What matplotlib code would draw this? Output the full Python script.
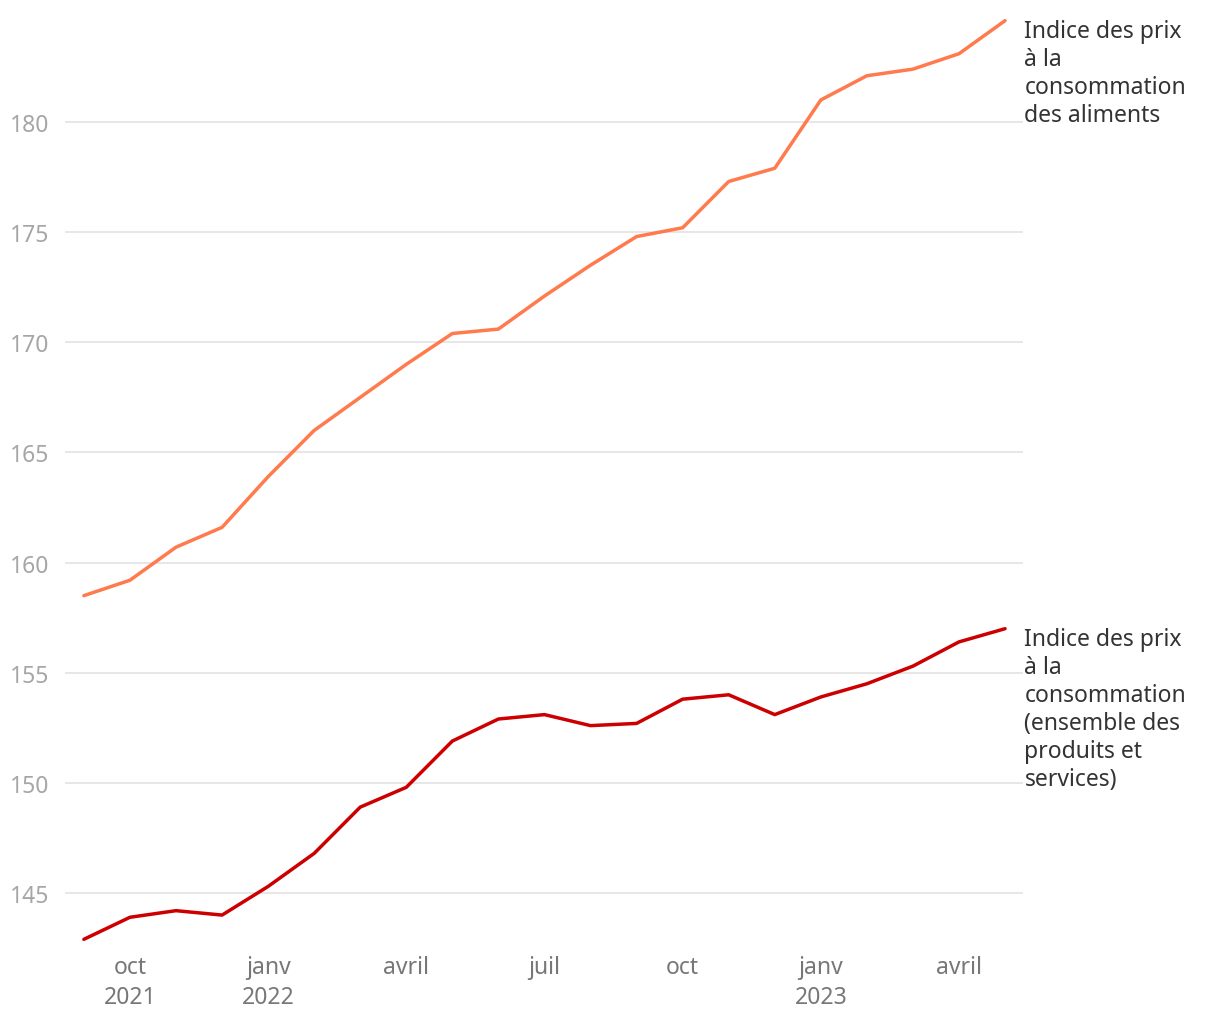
import matplotlib
matplotlib.use("Agg")
import matplotlib.pyplot as plt

plt.rcParams['font.family'] = ['Noto Sans', 'DejaVu Sans']

months = ["sept 2021", "oct 2021", "nov 2021", "déc 2021", "janv 2022", "févr 2022", "mars 2022",
          "avril 2022", "mai 2022", "juin 2022", "juil 2022", "août 2022", "sept 2022", "oct 2022",
          "nov 2022", "déc 2022", "janv 2023", "févr 2023", "mars 2023", "avril 2023", "mai 2023"]

food = [158.5, 159.2, 160.7, 161.6, 163.9, 166.0, 167.5, 169.0, 170.4, 170.6, 172.1,
        173.5, 174.8, 175.2, 177.3, 177.9, 181.0, 182.1, 182.4, 183.1, 184.6]
cpi = [142.9, 143.9, 144.2, 144.0, 145.3, 146.8, 148.9, 149.8, 151.9, 152.9, 153.1,
       152.6, 152.7, 153.8, 154.0, 153.1, 153.9, 154.5, 155.3, 156.4, 157.0]

food_label = "Indice des prix\nà la\nconsommation\ndes aliments"
cpi_label = "Indice des prix\nà la\nconsommation\n(ensemble des\nproduits et\nservices)"

xtick_pos = [1, 4, 7, 10, 13, 16, 19]
xtick_labels = ["oct\n2021", "janv\n2022", "avril", "juil", "oct", "janv\n2023", "avril"]
ytick_vals = [145, 150, 155, 160, 165, 170, 175, 180]

food_color = "#FF7A4D"
cpi_color = "#CC0000"

FS = 16.5

fig = plt.figure(figsize=(12.2, 10.2), dpi=100)
W, H = 1220, 1020
left, right, top, bottom = 65, 1023, 10, 950
ax = fig.add_axes([left / W, 1 - bottom / H, (right - left) / W, (bottom - top) / H])

x = list(range(len(months)))
ax.plot(x, food, color=food_color, lw=2.5, solid_capstyle='round', solid_joinstyle='round')
ax.plot(x, cpi, color=cpi_color, lw=2.5, solid_capstyle='round', solid_joinstyle='round')

ax.set_xlim(-0.41, 20.39)
ax.set_ylim(142.46, 185.13)

ax.set_yticks(ytick_vals)
ax.set_yticklabels([str(v) for v in ytick_vals])
ax.grid(axis='y', color='#e3e3e3', lw=1.2)
ax.set_axisbelow(True)
ax.tick_params(axis='y', length=0, labelsize=FS, labelcolor='#a6a6a6', pad=40)
for lab in ax.get_yticklabels():
    lab.set_horizontalalignment('left')

ax.set_xticks(xtick_pos)
ax.set_xticklabels(xtick_labels)
ax.tick_params(axis='x', length=0, labelsize=FS, labelcolor='#777777', pad=4)
for lab in ax.get_xticklabels():
    lab.set_linespacing(1.38)

for s in ax.spines.values():
    s.set_visible(False)

ax.annotate(food_label, xy=(x[-1], food[-1]), xytext=(14, 1.5), textcoords='offset points',
            ha='left', va='top', fontsize=FS, color='#333333', linespacing=1.23,
            annotation_clip=False)
ax.annotate(cpi_label, xy=(x[-1], cpi[-1]), xytext=(14, 1.5), textcoords='offset points',
            ha='left', va='top', fontsize=FS, color='#333333', linespacing=1.23,
            annotation_clip=False)

fig.savefig("out.png", dpi=100)
